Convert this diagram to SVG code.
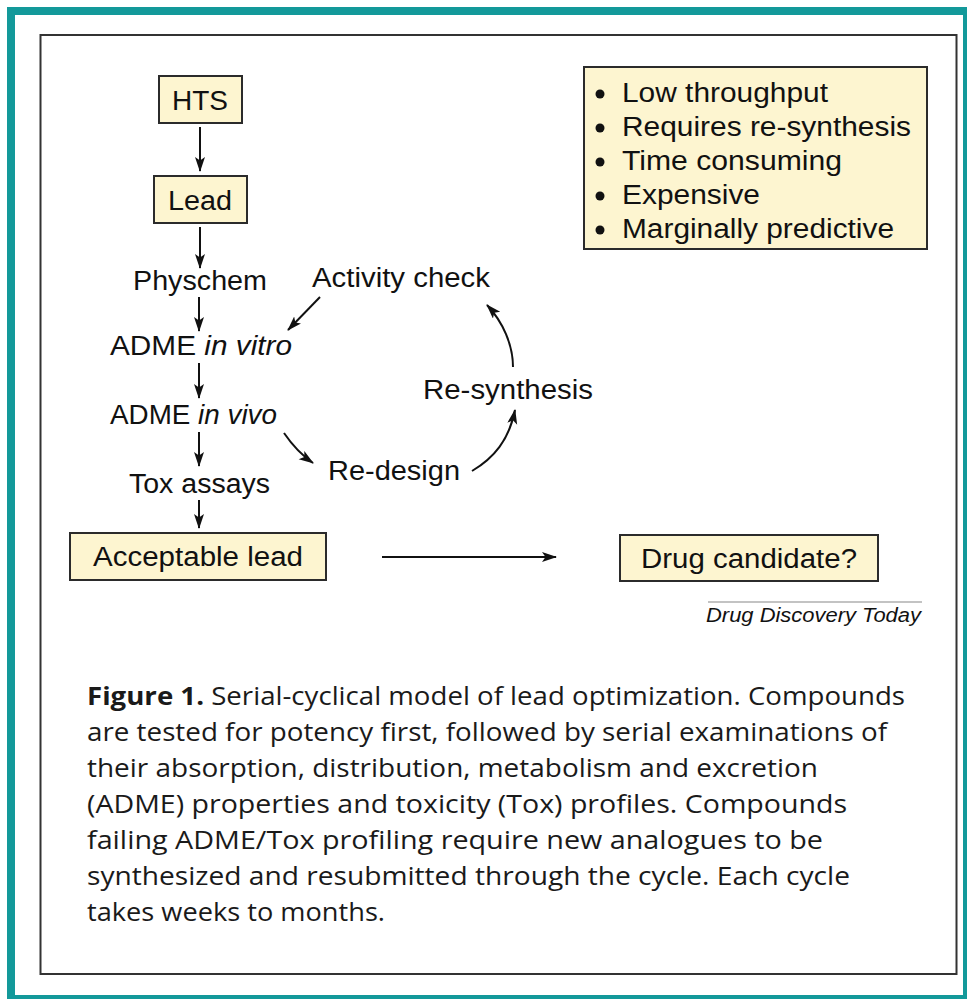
<svg xmlns="http://www.w3.org/2000/svg" width="967" height="999" viewBox="0 0 967 999">
<defs>
<style>
.box{fill:#fdf5d0;stroke:#2b2b2b;stroke-width:2}
.lbl{font-family:"Liberation Sans",Arial,sans-serif;font-size:27px;fill:#111}
.cap{font-family:"Open Sans","Liberation Sans",sans-serif;font-size:25px;fill:#1a1a1a}
.con{fill:none;stroke:#111;stroke-width:2}
</style>
<marker id="ah" markerUnits="userSpaceOnUse" markerWidth="16" markerHeight="12" refX="14" refY="5" orient="auto">
<path d="M0,0 L15,5 L0,10 L3.5,5 z" fill="#111"/>
</marker>
</defs>
<rect width="967" height="999" fill="#ffffff"/>
<g id="frame">
<rect x="7" y="7" width="960" height="8" fill="#13999a"/>
<rect x="7" y="7" width="8" height="992" fill="#13999a"/>
<rect x="963" y="7" width="4" height="992" fill="#13999a"/>
<rect x="7" y="995" width="960" height="4" fill="#13999a"/>
<rect x="40.5" y="35" width="916" height="939" fill="none" stroke="#333" stroke-width="2"/>
</g>
<g id="connectors">
<line class="con" x1="200" y1="127" x2="200" y2="171" marker-end="url(#ah)"/>
<line class="con" x1="200" y1="227" x2="200" y2="268" marker-end="url(#ah)"/>
<line class="con" x1="199" y1="297" x2="199" y2="331" marker-end="url(#ah)"/>
<line class="con" x1="199" y1="363" x2="199" y2="398" marker-end="url(#ah)"/>
<line class="con" x1="199" y1="432" x2="199" y2="466" marker-end="url(#ah)"/>
<line class="con" x1="199" y1="500" x2="199" y2="528" marker-end="url(#ah)"/>
<line class="con" x1="382" y1="557" x2="556" y2="557" marker-end="url(#ah)"/>
<path class="con" d="M320,297 L288,330" marker-end="url(#ah)"/>
<path class="con" d="M284,433 Q297,452 313,463" marker-end="url(#ah)"/>
<path class="con" d="M472,471 C494,458 509,440 515,410" marker-end="url(#ah)"/>
<path class="con" d="M513,367 C513,345 503,322 487,305" marker-end="url(#ah)"/>
</g>
<g id="hts"><rect class="box" x="159" y="76" width="83" height="47"/><text class="lbl" x="172" y="110" textLength="56" lengthAdjust="spacingAndGlyphs">HTS</text></g>
<g id="lead"><rect class="box" x="154" y="176" width="93" height="47"/><text class="lbl" x="168" y="210" textLength="64" lengthAdjust="spacingAndGlyphs">Lead</text></g>
<g id="physchem"><text class="lbl" x="133" y="290" textLength="134" lengthAdjust="spacingAndGlyphs">Physchem</text></g>
<g id="adme-vitro"><text class="lbl" x="110" y="355" textLength="182" lengthAdjust="spacingAndGlyphs">ADME <tspan font-style="italic">in vitro</tspan></text></g>
<g id="adme-vivo"><text class="lbl" x="110" y="424" textLength="167" lengthAdjust="spacingAndGlyphs">ADME <tspan font-style="italic">in vivo</tspan></text></g>
<g id="tox"><text class="lbl" x="129" y="493" textLength="141" lengthAdjust="spacingAndGlyphs">Tox assays</text></g>
<g id="activity"><text class="lbl" x="312" y="287" textLength="178" lengthAdjust="spacingAndGlyphs">Activity check</text></g>
<g id="resynthesis"><text class="lbl" x="423" y="399" textLength="170" lengthAdjust="spacingAndGlyphs">Re-synthesis</text></g>
<g id="redesign"><text class="lbl" x="328" y="480" textLength="132" lengthAdjust="spacingAndGlyphs">Re-design</text></g>
<g id="acceptable"><rect class="box" x="70" y="533" width="256" height="47"/><text class="lbl" x="93" y="566" textLength="210" lengthAdjust="spacingAndGlyphs">Acceptable lead</text></g>
<g id="candidate"><rect class="box" x="620" y="535" width="258" height="46"/><text class="lbl" x="641" y="568" textLength="216" lengthAdjust="spacingAndGlyphs">Drug candidate?</text></g>
<g id="bullets">
<rect class="box" x="584" y="67" width="343" height="182"/>
<circle cx="600" cy="94" r="4.5" fill="#111"/>
<circle cx="600" cy="128" r="4.5" fill="#111"/>
<circle cx="600" cy="162" r="4.5" fill="#111"/>
<circle cx="600" cy="196" r="4.5" fill="#111"/>
<circle cx="600" cy="230" r="4.5" fill="#111"/>
<text class="lbl" x="622" y="102" textLength="206" lengthAdjust="spacingAndGlyphs">Low throughput</text>
<text class="lbl" x="622" y="136" textLength="289" lengthAdjust="spacingAndGlyphs">Requires re-synthesis</text>
<text class="lbl" x="622" y="170" textLength="220" lengthAdjust="spacingAndGlyphs">Time consuming</text>
<text class="lbl" x="622" y="204" textLength="138" lengthAdjust="spacingAndGlyphs">Expensive</text>
<text class="lbl" x="622" y="238" textLength="272" lengthAdjust="spacingAndGlyphs">Marginally predictive</text>
</g>
<g id="source">
<line x1="708" y1="602" x2="922" y2="602" stroke="#888" stroke-width="1.2"/>
<text x="706" y="622" font-family="'Liberation Sans',Arial,sans-serif" font-size="20" font-style="italic" fill="#111" textLength="215" lengthAdjust="spacingAndGlyphs">Drug Discovery Today</text>
</g>
<g id="caption">
<text class="cap" x="87" y="705" textLength="818" lengthAdjust="spacingAndGlyphs"><tspan font-weight="bold">Figure 1.</tspan> Serial-cyclical model of lead optimization. Compounds</text>
<text class="cap" x="87" y="741" textLength="800" lengthAdjust="spacingAndGlyphs">are tested for potency first, followed by serial examinations of</text>
<text class="cap" x="87" y="777" textLength="731" lengthAdjust="spacingAndGlyphs">their absorption, distribution, metabolism and excretion</text>
<text class="cap" x="87" y="813" textLength="760" lengthAdjust="spacingAndGlyphs">(ADME) properties and toxicity (Tox) profiles. Compounds</text>
<text class="cap" x="87" y="849" textLength="736" lengthAdjust="spacingAndGlyphs">failing ADME/Tox profiling require new analogues to be</text>
<text class="cap" x="87" y="885" textLength="763" lengthAdjust="spacingAndGlyphs">synthesized and resubmitted through the cycle. Each cycle</text>
<text class="cap" x="87" y="921" textLength="298" lengthAdjust="spacingAndGlyphs">takes weeks to months.</text>
</g>
</svg>
